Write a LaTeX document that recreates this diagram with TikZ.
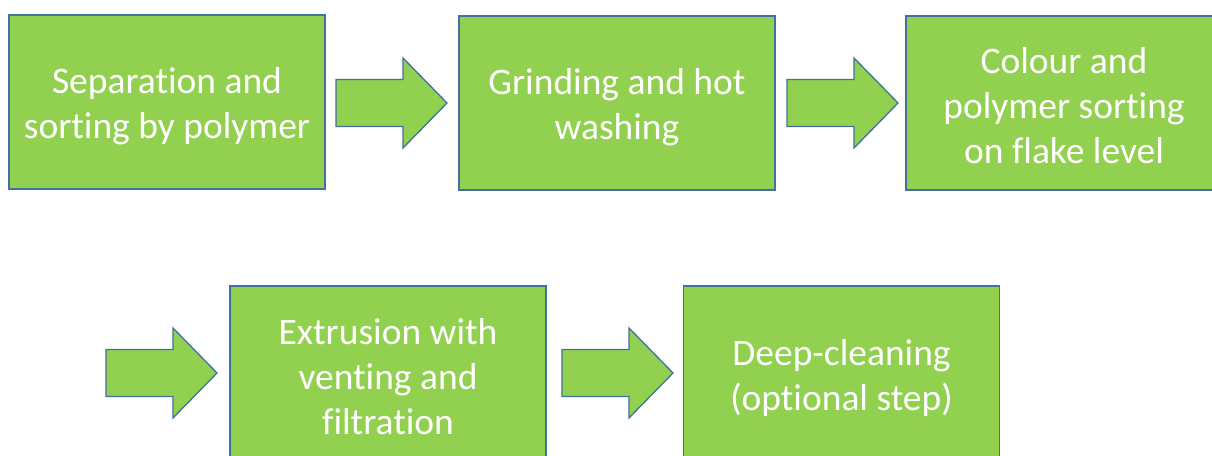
\documentclass[tikz,border=0pt]{standalone}
\usepackage{fontspec}
\setmainfont[Ligatures=NoCommon]{Carlito}
\definecolor{boxgreen}{HTML}{92D050}
\definecolor{boxedge}{HTML}{41719C}
\begin{document}
\begin{tikzpicture}[x=1pt,y=-1pt,
  stepbox/.style={draw=boxedge,fill=boxgreen,line width=1.3pt,minimum width=316pt,
    minimum height=174pt,inner sep=0pt},
  steptext/.style={inner sep=0pt,text=white,align=center,
    font=\fontsize{37.5}{45}\selectfont},
  blockarrow/.style={draw=boxedge,fill=boxgreen,line width=1.3pt,line join=miter},
  barrow/.pic={\path[blockarrow] (0,-23.5)--(67,-23.5)--(67,-45)--(111,0)--(67,45)--(67,23.5)--(0,23.5)--cycle;}]
\useasboundingbox (0,0) rectangle (1212,455);
\fill[white] (0,0) rectangle (1212,455);
\node[stepbox] (b1) at (167,102) {};
\node[stepbox] (b2) at (617,103) {};
\node[stepbox] (b3) at (1064,103) {};
\node[stepbox,minimum height=176pt] (b4) at (388,374) {};
\node[stepbox,minimum height=176pt] (b5) at (841.5,374) {};
\node[steptext] (t1) at ([yshift=-4pt]b1.center) {Separation and\\sorting by polymer};
\node[steptext] (t2) at ([yshift=-4pt]b2.center) {Grinding and hot\\washing};
\node[steptext] (t3) at ([yshift=-3pt]b3.center) {Colour and\\polymer sorting\\on flake level};
\node[steptext] (t4) at ([yshift=-3pt]b4.center) {Extrusion with\\venting and\\filtration};
\node[steptext] (t5) at ([yshift=-4pt]b5.center) {Deep-cleaning\\(optional step)};
\coordinate (a1) at (336,103);
\coordinate (a2) at (787,103);
\coordinate (a3) at (106,373);
\coordinate (a4) at (562,373);
\pic at (a1) {barrow};
\pic at (a2) {barrow};
\pic at (a3) {barrow};
\pic at (a4) {barrow};
\end{tikzpicture}
\end{document}
